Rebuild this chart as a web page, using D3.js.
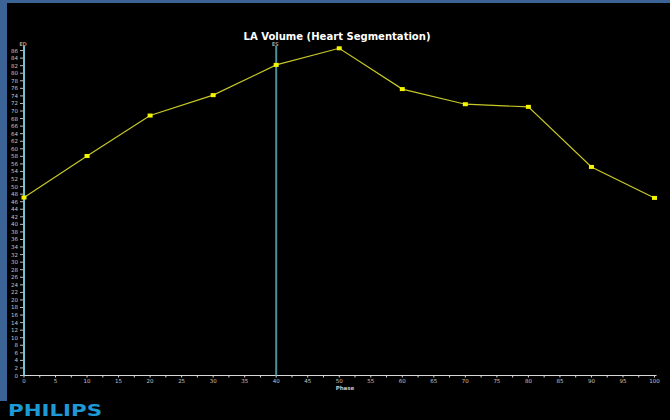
<!DOCTYPE html>
<html>
<head>
<meta charset="utf-8">
<script src="https://cdn.jsdelivr.net/npm/d3@7"></script>
<style>
  html, body { margin: 0; padding: 0; background: #000; }
  svg { display: block; }
</style>
</head>
<body>
<div id="chart"></div>
<script>
const width = 670,
    height = 420;

// data
const phases = [0, 10, 20, 30, 40, 50, 60, 70, 80, 90, 100];
const volumes = [47.1, 58.1, 68.8, 74.2, 82.2, 86.6, 75.8, 71.8, 71.1, 55.2, 47.0];
const markerPhases = [0, 40];
const markerNames = ['ED', 'ES'];
const yTicks = d3.range(0, 87, 2);
const xTicks = d3.range(0, 101, 5);
const xMinorTicks = d3.range(0, 101, 2.5);

const svg = d3.select('#chart')
    .append('svg')
    .attr('width', width)
    .attr('height', height);

// background + blue frame
svg.append('rect').attr('width', width).attr('height', height).attr('fill', '#000');
svg.append('rect').attr('x', 0).attr('y', 0).attr('width', width).attr('height', 3).attr('fill', '#3b6396');
svg.append('rect').attr('x', 0).attr('y', 0).attr('width', 7).attr('height', 401).attr('fill', '#3b6396');

// scales
const x = d3.scaleLinear()
    .domain([0, 100])
    .range([24, 654.5]);

const y = d3.scaleLinear()
    .domain([0, 88])
    .range([375.5, 43]);

// title
svg.append('text')
    .attr('x', 337)
    .attr('y', 40)
    .attr('text-anchor', 'middle')
    .attr('fill', '#fff')
    .attr('font-family', 'DejaVu Sans')
    .attr('font-weight', 'bold')
    .attr('font-size', 10)
    .attr('textLength', 187)
    .attr('lengthAdjust', 'spacingAndGlyphs')
    .text('LA Volume (Heart Segmentation)');

// x axis
const xAxisG = svg.append('g')
    .attr('transform', 'translate(0,' + y(0) + ')');

xAxisG.append('line')
    .attr('x1', x(0)).attr('x2', x(100) + 2)
    .attr('stroke', '#d8d8d8').attr('stroke-width', 1);

xAxisG.selectAll('.minor')
    .data(xMinorTicks)
    .enter()
    .append('line')
    .attr('x1', function(d) { return x(d); })
    .attr('x2', function(d) { return x(d); })
    .attr('y1', 0).attr('y2', 2)
    .attr('stroke', '#d8d8d8');

xAxisG.selectAll('.xlab')
    .data(xTicks)
    .enter()
    .append('text')
    .attr('x', function(d) { return x(d); })
    .attr('y', 7)
    .attr('text-anchor', 'middle')
    .attr('fill', '#c4c4c4')
    .attr('font-family', 'DejaVu Sans')
    .attr('font-size', 5.5)
    .text(function(d) { return d; });

svg.append('text')
    .attr('x', 345)
    .attr('y', 389.5)
    .attr('text-anchor', 'middle')
    .attr('fill', '#c4c4c4')
    .attr('font-family', 'DejaVu Sans')
    .attr('font-weight', 'bold')
    .attr('font-size', 5.5)
    .text('Phase');

// y axis ticks + labels
const yAxisG = svg.append('g');

yAxisG.selectAll('.ytick')
    .data(yTicks)
    .enter()
    .append('line')
    .attr('x1', x(0) - 4).attr('x2', x(0))
    .attr('y1', function(d) { return y(d); })
    .attr('y2', function(d) { return y(d); })
    .attr('stroke', '#bdbdbd');

yAxisG.selectAll('.ylab')
    .data(yTicks)
    .enter()
    .append('text')
    .attr('x', 18)
    .attr('y', function(d) { return y(d) + 2; })
    .attr('text-anchor', 'end')
    .attr('fill', '#c4c4c4')
    .attr('font-family', 'DejaVu Sans')
    .attr('font-size', 5.5)
    .text(function(d) { return d; });

// ED / ES lines
const markerColors = ['#72c4d2', '#4f8e98'];
svg.selectAll('.mline')
    .data(markerPhases)
    .enter()
    .append('line')
    .attr('x1', function(d) { return x(d); })
    .attr('x2', function(d) { return x(d); })
    .attr('y1', 46)
    .attr('y2', y(0))
    .attr('stroke', function(d, i) { return markerColors[i]; })
    .attr('stroke-width', 2);

svg.selectAll('.mlab')
    .data(markerPhases)
    .enter()
    .append('text')
    .attr('x', function(d) { return x(d) - 1; })
    .attr('y', 45.5)
    .attr('text-anchor', 'middle')
    .attr('fill', '#e0e0e0')
    .attr('font-family', 'DejaVu Sans')
    .attr('font-size', 5)
    .text(function(d, i) { return markerNames[i]; });

// volume line
const line = d3.line()
    .x(function(d, i) { return x(phases[i]); })
    .y(function(d) { return y(d); });

svg.append('path')
    .datum(volumes)
    .attr('d', line)
    .attr('fill', 'none')
    .attr('stroke', '#c8c828')
    .attr('stroke-width', 1.2);

svg.selectAll('.pt')
    .data(volumes)
    .enter()
    .append('rect')
    .attr('x', function(d, i) { return x(phases[i]) - 2.5; })
    .attr('y', function(d) { return y(d) - 2; })
    .attr('width', 5)
    .attr('height', 4)
    .attr('fill', '#f4f400');

// logo
svg.append('text')
    .attr('x', 8)
    .attr('y', 416)
    .attr('fill', '#1d9ad6')
    .attr('font-family', 'DejaVu Sans')
    .attr('font-weight', 'bold')
    .attr('font-size', 16)
    .attr('textLength', 94)
    .attr('lengthAdjust', 'spacingAndGlyphs')
    .text('PHILIPS');
</script>
</body>
</html>
